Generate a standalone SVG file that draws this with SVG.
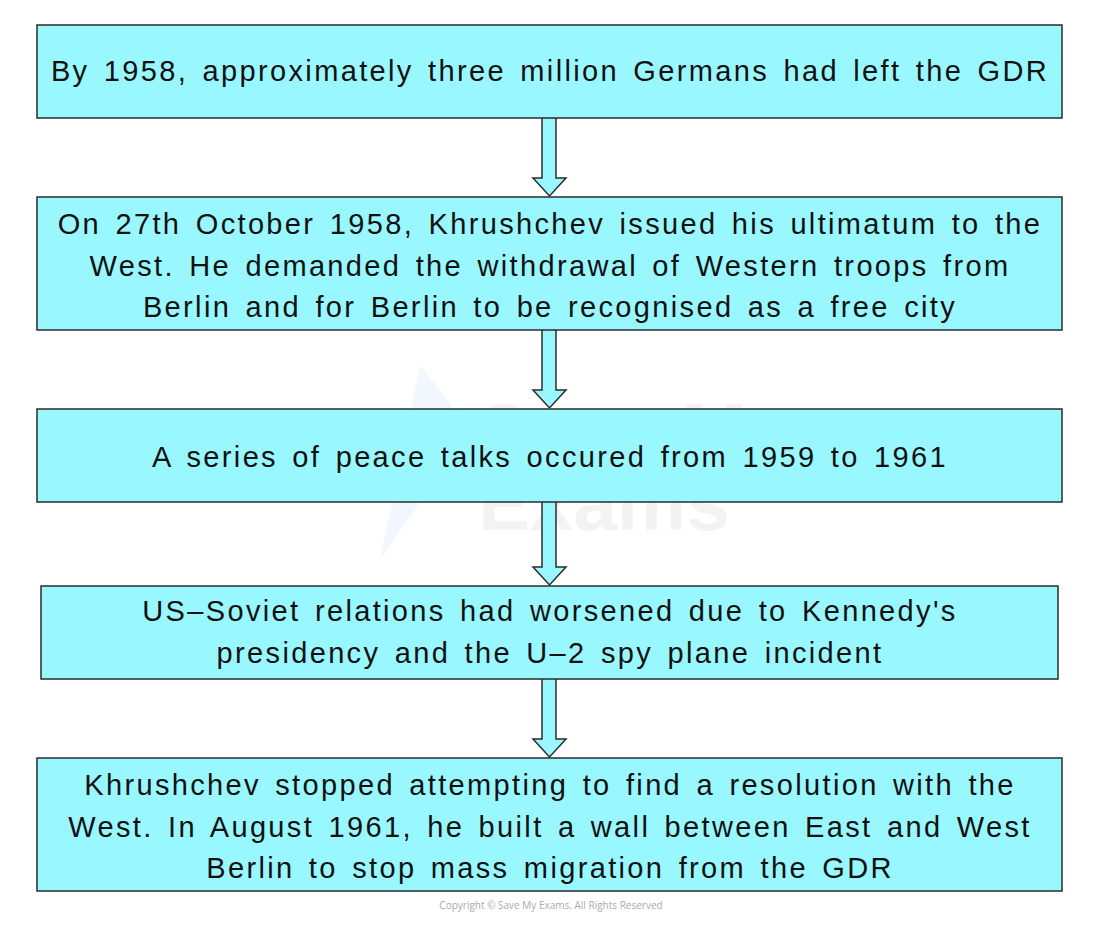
<svg xmlns="http://www.w3.org/2000/svg" width="1100" height="925" viewBox="0 0 1100 925">
<style>
.box{fill:#99f8ff;stroke:#2b2b2b;stroke-width:1.5}
.t{font-family:"Liberation Sans",Arial,sans-serif;font-size:29px;fill:#111;text-anchor:middle;letter-spacing:2.35px;word-spacing:4px}
.arr{fill:#99f8ff;stroke:#2b2b2b;stroke-width:1.5;stroke-linejoin:miter}
.wm{font-family:"Liberation Sans",Arial,sans-serif;font-weight:bold;font-size:78px;fill:#d8d8d8;opacity:0.3}
.cp{font-family:"Open Sans","Liberation Sans",sans-serif;font-size:10px;fill:#aaa;text-anchor:middle}
</style>
<rect width="1100" height="925" fill="#fff"/>
<g id="watermark">
<polygon points="420,365 380,560 470,430" fill="#eef4ff" opacity="0.8"/>
<text class="wm" x="478" y="458">Save My</text>
<text class="wm" x="478" y="530">Exams</text>
</g>
<g id="connectors">
<path class="arr" d="M542,118 V178 H533 L549.5,196 L566,178 H556 V118"/>
<path class="arr" d="M542,330 V390 H533 L549.5,408 L566,390 H556 V330"/>
<path class="arr" d="M542,502 V567 H533 L549.5,585 L566,567 H556 V502"/>
<path class="arr" d="M542,679 V739 H533 L549.5,757 L566,739 H556 V679"/>
</g>
<g id="node1">
<rect class="box" x="37" y="25" width="1025" height="93"/>
<text class="t" x="550" y="81">By 1958, approximately three million Germans had left the GDR</text>
</g>
<g id="node2">
<rect class="box" x="37" y="197" width="1025" height="133"/>
<text class="t" x="550" y="234">On 27th October 1958, Khrushchev issued his ultimatum to the</text>
<text class="t" x="550" y="276">West. He demanded the withdrawal of Western troops from</text>
<text class="t" x="550" y="317">Berlin and for Berlin to be recognised as a free city</text>
</g>
<g id="node3">
<rect class="box" x="37" y="409" width="1025" height="93"/>
<text class="t" x="550" y="467">A series of peace talks occured from 1959 to 1961</text>
</g>
<g id="node4">
<rect class="box" x="41" y="586" width="1017" height="93"/>
<text class="t" x="550" y="621">US–Soviet relations had worsened due to Kennedy's</text>
<text class="t" x="550" y="663">presidency and the U–2 spy plane incident</text>
</g>
<g id="node5">
<rect class="box" x="37" y="758" width="1025" height="133"/>
<text class="t" x="550" y="795">Khrushchev stopped attempting to find a resolution with the</text>
<text class="t" x="550" y="837">West. In August 1961, he built a wall between East and West</text>
<text class="t" x="550" y="878">Berlin to stop mass migration from the GDR</text>
</g>
<text class="cp" x="551" y="909">Copyright © Save My Exams. All Rights Reserved</text>
</svg>
